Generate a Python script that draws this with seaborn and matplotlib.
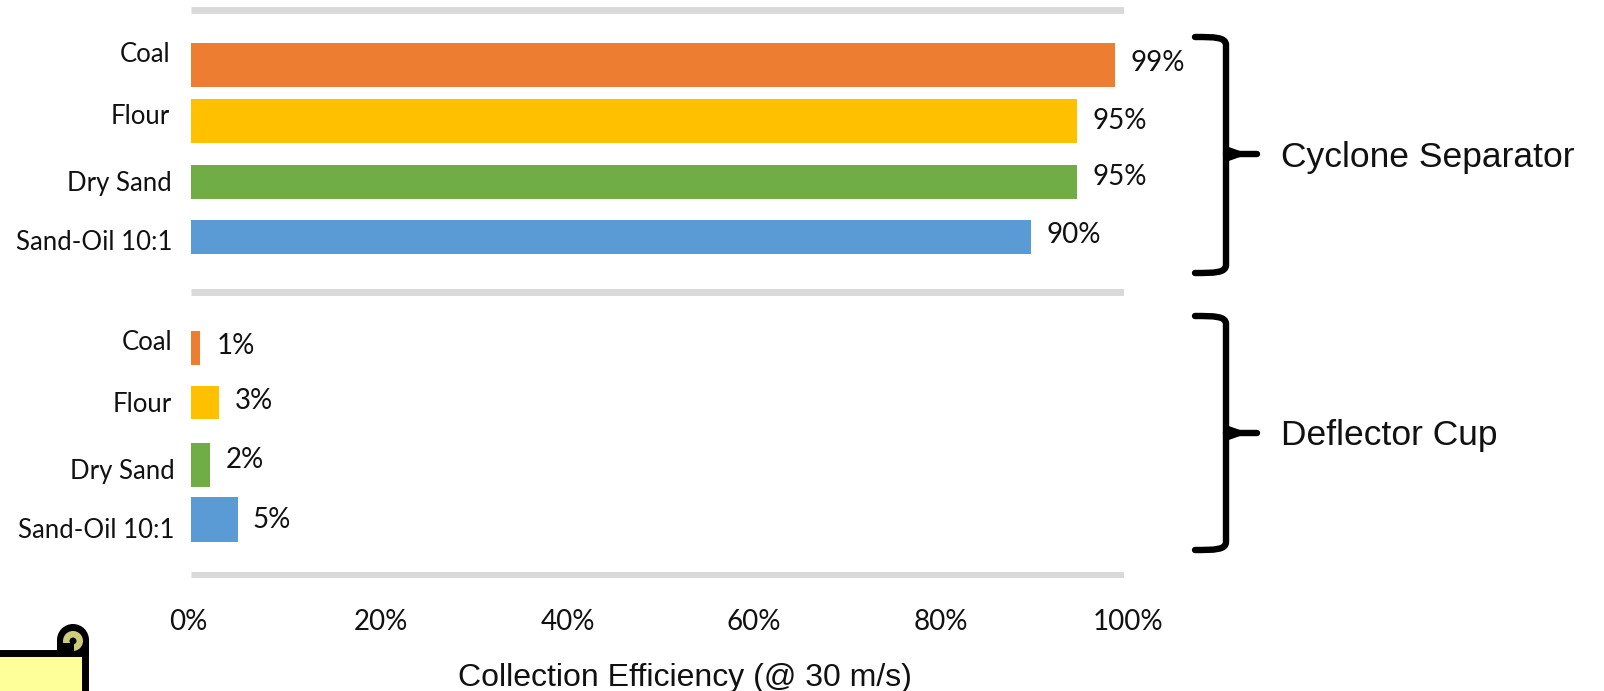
import pandas as pd
import seaborn as sns
import matplotlib
matplotlib.use("Agg")
import matplotlib.pyplot as plt
from matplotlib.path import Path
from matplotlib.patches import PathPatch, Rectangle, Circle, Polygon
from matplotlib.transforms import Affine2D, ScaledTranslation

# Collection efficiency at 30 m/s, percent
materials = ["Coal", "Flour", "Dry Sand", "Sand-Oil 10:1"]
cyclone_efficiency = [99, 95, 95, 90]
deflector_efficiency = [1, 3, 2, 5]
x_tick_values = [0, 20, 40, 60, 80, 100]
material_colours = ["#ED7D31", "#FFC000", "#70AD47", "#5B9BD5"]

W, H = 1604, 691
INK = "#111111"
sns.set_theme(style="white")
plt.rcParams["font.family"] = ["Lato", "DejaVu Sans"]
helvetica_like = ["Liberation Sans", "DejaVu Sans"]

fig = plt.figure(figsize=(W / 100, H / 100), dpi=100)
ax = fig.add_axes([191 / W, 1 - 578 / H, (1124 - 191) / W, (578 - 7) / H])

# rows 1-4 hold the cyclone group, rows 6-9 the deflector group; 0, 5, 10 are separators
frame = pd.DataFrame({
    "row": [1, 2, 3, 4, 6, 7, 8, 9],
    "efficiency": cyclone_efficiency + deflector_efficiency,
    "material": materials * 2,
})
sns.barplot(data=frame, x="efficiency", y="row", hue="material", hue_order=materials,
            palette=material_colours, orient="y", native_scale=True, dodge=False,
            legend=False, width=0.7, saturation=1, linewidth=0, ax=ax)
ax.set_xlim(0, 100)
ax.set_ylim(10.05, -0.05)

# per-row thickness and placement of the bars, in row units
row_height = [0.78, 0.78, 0.60, 0.59, 0.60, 0.59, 0.78, 0.79]
row_centre = [0.97, 1.96, 3.04, 4.02, 5.98, 6.95, 8.05, 9.02]
bars = sorted([p for p in ax.patches if p.get_width() > 0], key=lambda p: p.get_y())
for bar, h, c in zip(bars, row_height, row_centre):
    bar.set_height(h)
    bar.set_y(c - h / 2)

for row in (0, 5, 10):
    ax.axhline(row, color="#D9D9D9", lw=5, solid_capstyle="butt", zorder=0)

sns.despine(ax=ax, left=True, bottom=True)
ax.set_yticks([])
ax.set_xlabel("")
ax.set_ylabel("")
ax.set_xticks(x_tick_values)
ax.set_xticklabels([f"{v}%" for v in x_tick_values], fontsize=20, color=INK)
ax.tick_params(axis="x", length=0, pad=22)

# nudge the axis labels sideways, in pixels
for label, shift in zip(ax.get_xticklabels(), [-3, 3, 4, 3, 3, 4]):
    label.set_transform(label.get_transform() + ScaledTranslation(shift / 100, 0, fig.dpi_scale_trans))

# value labels: horizontal gap and vertical shift from the bar end, in pixels
gap_px = [16, 15, 15, 16, 16, 16, 16, 15]
lift_px = [2, 0, 5, 2, 2, 2, 5, 0]
for bar, val, gap, lift in zip(bars, frame["efficiency"], gap_px, lift_px):
    ax.annotate(f"{val}%", (val, bar.get_y() + bar.get_height() / 2),
                xytext=(gap * 0.72, lift * 0.72), textcoords="offset points",
                ha="left", va="center", fontsize=20, color=INK)

# category labels, right-aligned beside the bars
text_right = [170, 170, 172, 172, 172, 172, 175, 175]
text_y = [55, 116, 184, 243, 343, 404, 472, 530]
for name, r, y in zip(materials * 2, text_right, text_y):
    fig.text(r / W, 1 - y / H, name, ha="right", va="center", fontsize=18.5, color=INK)

fig.text(685 / W, 1 - 678 / H, "Collection Efficiency (@ 30 m/s)", ha="center", va="center",
         fontsize=23, family=helvetica_like, color=INK)

fig.text(1281 / W, 1 - 157 / H, "Cyclone Separator", ha="left", va="center",
         fontsize=25.5, family=helvetica_like, color=INK)
fig.text(1281 / W, 1 - 436 / H, "Deflector Cup", ha="left", va="center",
         fontsize=25.5, family=helvetica_like, color=INK)

# shapes around the chart are placed in figure pixels, measured from the top left
pix = Affine2D().scale(1 / W, -1 / H).translate(0, 1) + fig.transFigure


def brace(top, bottom, mid):
    """Right-hand curly brace between two heights."""
    x0, x1, tip = 1195, 1226, 1257
    verts = [(x0, top), (x1 - 12, top), (x1, top), (x1, top + 8),
             (x1, bottom - 8),
             (x1, bottom), (x1 - 12, bottom), (x0, bottom),
             (x1, mid), (tip, mid)]
    codes = [Path.MOVETO, Path.CURVE4, Path.CURVE4, Path.CURVE4,
             Path.LINETO,
             Path.CURVE4, Path.CURVE4, Path.CURVE4,
             Path.MOVETO, Path.LINETO]
    fig.add_artist(PathPatch(Path(verts, codes), transform=pix, fill=False, ec="black",
                             lw=4.6, capstyle="round", joinstyle="round"))
    fig.add_artist(Polygon([(x1, mid - 8), (x1 + 14, mid - 3), (x1 + 14, mid + 3), (x1, mid + 8)],
                           transform=pix, fc="black", ec="none"))


brace(37, 273, 154)
brace(316, 550, 433)

# scroll shape cut off by the lower-left corner of the figure
fig.add_artist(Rectangle((-8, 653), 93, 48, transform=pix, fc="#FFFF99", ec="black", lw=5))
fig.add_artist(Rectangle((57, 640), 32, 16, transform=pix, fc="black", ec="none"))
fig.add_artist(Circle((73, 640), 16, transform=pix, fc="black", ec="none"))
fig.add_artist(Circle((73, 641), 10, transform=pix, fc="#CCCC7A", ec="none"))
fig.add_artist(Circle((73, 641), 3.5, transform=pix, fc="black", ec="none"))
fig.add_artist(Rectangle((63, 643), 11, 10, transform=pix, fc="black", ec="none"))

fig.savefig("out.png", dpi=100)
